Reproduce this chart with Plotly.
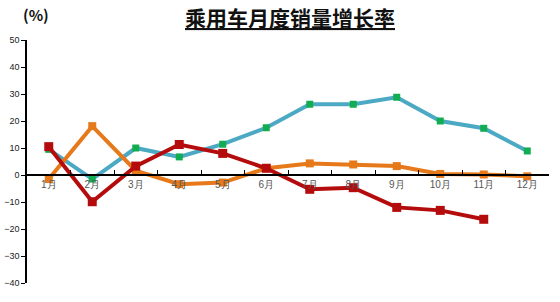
import plotly.graph_objects as go

months = ["1月", "2月", "3月", "4月", "5月", "6月", "7月", "8月", "9月", "10月", "11月", "12月"]
series_teal = [9.5, -1.5, 10.0, 6.7, 11.4, 17.5, 26.2, 26.2, 28.8, 20.0, 17.3, 8.9]
series_orange = [-1.5, 18.1, 1.6, -3.4, -2.8, 2.5, 4.3, 3.9, 3.3, 0.4, 0.2, -0.5]
series_red = [10.5, -9.9, 3.3, 11.3, 8.0, 2.5, -5.3, -4.7, -12.0, -13.1, -16.4]
y_ticks = [50, 40, 30, 20, 10, 0, -10, -20, -30, -40]

y_min, y_max = -40, 50
W, H = 560, 302
ML, MR, MT, MB = 27, 11, 40, 19
plot_w = W - ML - MR
plot_h = H - MT - MB


def px_x(x):
    return (x - ML) / plot_w


def px_y(y):
    return (H - MB - y) / plot_h


fig = go.Figure()
fig.add_trace(go.Scatter(
    x=months, y=series_teal, mode="lines+markers",
    line=dict(color="#4BA9C3", width=4),
    marker=dict(symbol="square", size=7, color="#12AD50"),
))
fig.add_trace(go.Scatter(
    x=months, y=series_orange, mode="lines+markers",
    line=dict(color="#E6791A", width=4),
    marker=dict(symbol="square", size=8, color="#E6791A"),
))
fig.add_trace(go.Scatter(
    x=months[:len(series_red)], y=series_red, mode="lines+markers",
    line=dict(color="#B40C0C", width=4),
    marker=dict(symbol="square", size=9, color="#B40C0C"),
))

fig.update_layout(
    width=W, height=H,
    margin=dict(l=ML, r=MR, t=MT, b=MB),
    paper_bgcolor="white", plot_bgcolor="white",
    showlegend=False,
    font=dict(family="Liberation Sans, Arial, sans-serif", color="#222"),
    xaxis=dict(
        type="category", range=[-0.5, 11.5], automargin=False,
        anchor="free", position=(0 - y_min) / (y_max - y_min),
        showline=True, linecolor="#000", linewidth=1.5,
        ticks="inside", ticklen=4, tickcolor="#000", tickson="boundaries",
        showgrid=False, zeroline=False,
        tickfont=dict(size=10, color="#555"),
    ),
    yaxis=dict(
        range=[y_min, y_max], tickvals=y_ticks, automargin=False,
        showline=True, linecolor="#000", linewidth=1.5,
        ticks="outside", ticklen=4, tickcolor="#000",
        showgrid=False, zeroline=False,
        tickfont=dict(size=9, color="#222"),
    ),
    annotations=[
        dict(text="<b><u>乘用车月度销量增长率</u></b>", x=px_x(290), y=px_y(17),
             xref="paper", yref="paper", showarrow=False,
             font=dict(size=21, color="#111", family="Noto Sans CJK SC"),
             xanchor="center", yanchor="middle"),
        dict(text="<b>(%)</b>", x=px_x(21), y=px_y(15), xref="paper", yref="paper",
             showarrow=False, font=dict(size=15, color="#111", family="Noto Sans CJK SC"),
             xanchor="left", yanchor="middle"),
    ],
)

fig.write_html("out.html")
